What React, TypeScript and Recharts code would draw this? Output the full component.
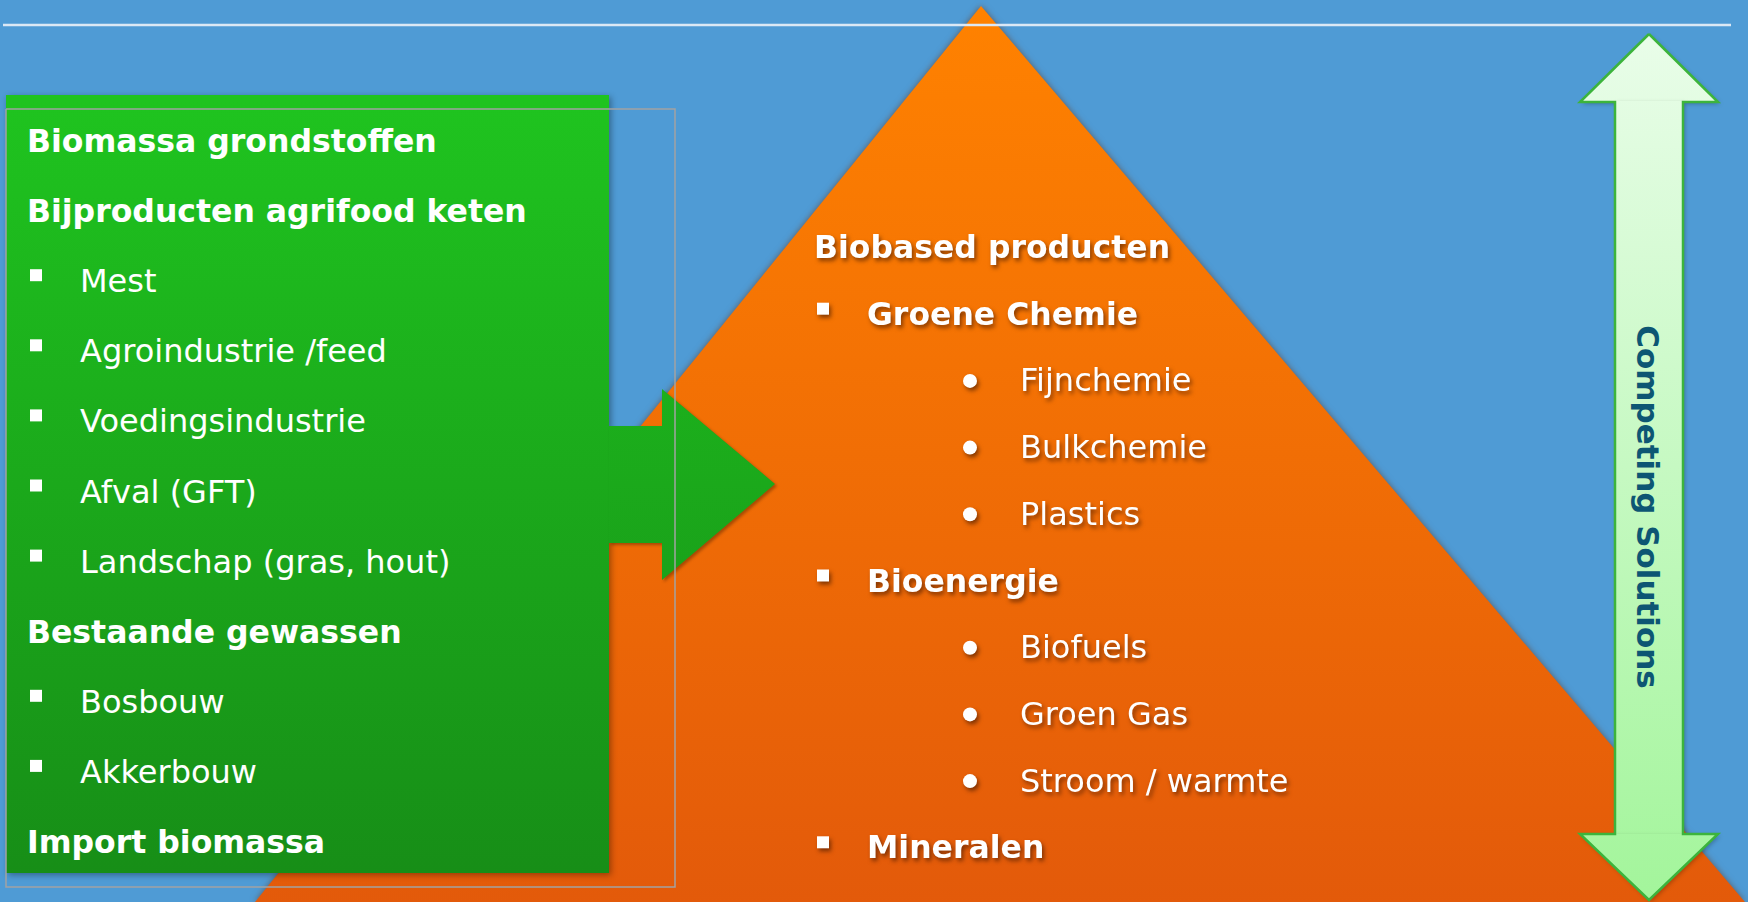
import { Area, ComposedChart, Line, Scatter, XAxis, YAxis } from "recharts";

const W = 1748;
const H = 902;
const FONT = "'DejaVu Sans', Verdana, sans-serif";

// left box: raw materials
const sourceLines = [
  { text: "Biomassa grondstoffen", kind: "head" },
  { text: "Bijproducten agrifood keten", kind: "head" },
  { text: "Mest", kind: "item" },
  { text: "Agroindustrie /feed", kind: "item" },
  { text: "Voedingsindustrie", kind: "item" },
  { text: "Afval (GFT)", kind: "item" },
  { text: "Landschap (gras, hout)", kind: "item" },
  { text: "Bestaande gewassen", kind: "head" },
  { text: "Bosbouw", kind: "item" },
  { text: "Akkerbouw", kind: "item" },
  { text: "Import biomassa", kind: "head" },
];

// pyramid: products
const productLines = [
  { text: "Biobased producten", kind: "head" },
  { text: "Groene Chemie", kind: "group" },
  { text: "Fijnchemie", kind: "sub" },
  { text: "Bulkchemie", kind: "sub" },
  { text: "Plastics", kind: "sub" },
  { text: "Bioenergie", kind: "group" },
  { text: "Biofuels", kind: "sub" },
  { text: "Groen Gas", kind: "sub" },
  { text: "Stroom / warmte", kind: "sub" },
  { text: "Mineralen", kind: "group" },
];

const sideLabel = "Competing Solutions";

// shapes in slide units: x, r = [top, bottom]
const pyramid = [
  { x: 255, r: [902, 902] },
  { x: 981, r: [6, 902] },
  { x: 1745, r: [902, 902] },
];
const sourceBox = [
  { x: 6, r: [95, 873] },
  { x: 609, r: [95, 873] },
];
const feedArrow = [
  { x: 609, r: [426, 543] },
  { x: 662, r: [426, 543] },
  { x: 662, r: [389, 580] },
  { x: 775, r: [484, 484] },
];
const upHead = [
  { x: 1580, r: [102, 102] },
  { x: 1649, r: [34, 102] },
  { x: 1718, r: [102, 102] },
];
const shaft = [
  { x: 1615, r: [101, 835] },
  { x: 1683, r: [101, 835] },
];
const downHead = [
  { x: 1580, r: [834, 834] },
  { x: 1649, r: [834, 900] },
  { x: 1718, r: [834, 834] },
];
const arrowOutline = [
  { x: 1649, y: 34 },
  { x: 1718, y: 102 },
  { x: 1683, y: 102 },
  { x: 1683, y: 834 },
  { x: 1718, y: 834 },
  { x: 1649, y: 900 },
  { x: 1580, y: 834 },
  { x: 1615, y: 834 },
  { x: 1615, y: 102 },
  { x: 1580, y: 102 },
  { x: 1649, y: 34 },
];
const frame = [
  { x: 6, y: 109 },
  { x: 675, y: 109 },
  { x: 675, y: 887 },
  { x: 6, y: 887 },
  { x: 6, y: 109 },
];
const rule = [
  { x: 3, y: 25 },
  { x: 1731, y: 25 },
];

const sourceRows = sourceLines.map((l, i) => ({ ...l, x: 27, y: 152 + i * 70.1 }));
const productRows = productLines.map((l, i) => ({ ...l, x: 814, y: 258 + i * 66.7 }));
const sideRows = [{ text: sideLabel, x: 1637, y: 507 }];

function SourceMark(props: any) {
  const { cx, cy, payload } = props;
  if (payload.kind === "head") {
    return (
      <text x={cx} y={cy} fill="#fff" fontSize={31.5} fontWeight={700} fontFamily={FONT}>
        {payload.text}
      </text>
    );
  }
  return (
    <g>
      <rect x={cx + 3} y={cy - 23} width={12} height={12} fill="#fff" />
      <text x={cx + 53} y={cy} fill="#fff" fontSize={32} fontFamily={FONT}>
        {payload.text}
      </text>
    </g>
  );
}

function ProductMark(props: any) {
  const { cx, cy, payload } = props;
  const bold = payload.kind !== "sub";
  const tx = payload.kind === "head" ? cx : payload.kind === "group" ? cx + 53 : cx + 206;
  return (
    <g className="txt-shadow">
      {payload.kind === "group" && <rect x={cx + 3} y={cy - 22} width={12} height={12} fill="#fff" />}
      {payload.kind === "sub" && <circle cx={cx + 156} cy={cy - 10.5} r={7} fill="#fff" />}
      <text
        x={tx}
        y={cy}
        fill="#fff"
        fontSize={bold ? 31.5 : 32}
        fontWeight={bold ? 700 : 400}
        fontFamily={FONT}
      >
        {payload.text}
      </text>
    </g>
  );
}

function SideMark(props: any) {
  const { cx, cy, payload } = props;
  return (
    <text
      x={cx}
      y={cy}
      transform={`rotate(90, ${cx}, ${cy})`}
      textAnchor="middle"
      fill="#0d5673"
      fontSize={31}
      fontWeight={700}
      fontFamily={FONT}
    >
      {payload.text}
    </text>
  );
}

export default function App() {
  return (
    <div style={{ position: "absolute", left: 0, top: 0, width: W, height: H, background: "#4f9bd5" }}>
      <style>{`
        .pyr path { filter: drop-shadow(0px 0px 3px rgba(110,40,0,0.55)); }
        .box path { filter: drop-shadow(2px 2px 3px rgba(0,0,0,0.35)); }
        .arr path { filter: drop-shadow(2px 2px 1.5px rgba(0,0,0,0.3)); }
        .dbl path { filter: drop-shadow(2px 2px 2px rgba(0,0,0,0.25)); }
        .txt-shadow { filter: drop-shadow(2px 3px 2px rgba(60,20,0,0.6)); }
      `}</style>
      <ComposedChart width={W} height={H} margin={{ top: 0, right: 0, bottom: 0, left: 0 }}>
        <defs>
          <linearGradient id="gPyr" x1="0" y1="0" x2="0" y2="1">
            <stop offset="0%" stopColor="#ff8200" />
            <stop offset="100%" stopColor="#e35a0a" />
          </linearGradient>
          <linearGradient id="gBox" gradientUnits="userSpaceOnUse" x1="0" y1="95" x2="0" y2="873">
            <stop offset="0%" stopColor="#1fc41f" />
            <stop offset="100%" stopColor="#178e17" />
          </linearGradient>
          <linearGradient id="gDbl" gradientUnits="userSpaceOnUse" x1="0" y1="34" x2="0" y2="900">
            <stop offset="0%" stopColor="#e9fde9" />
            <stop offset="100%" stopColor="#a3f59b" />
          </linearGradient>
        </defs>
        <XAxis type="number" dataKey="x" domain={[0, W]} allowDataOverflow hide />
        <YAxis type="number" dataKey="y" domain={[0, H]} allowDataOverflow reversed hide />

        <Area data={pyramid} dataKey="r" type="linear" fill="url(#gPyr)" fillOpacity={1} stroke="none" className="pyr" dot={false} activeDot={false} isAnimationActive={false} />
        <Area data={sourceBox} dataKey="r" type="linear" fill="url(#gBox)" fillOpacity={1} stroke="none" className="box" dot={false} activeDot={false} isAnimationActive={false} />
        <Area data={feedArrow} dataKey="r" type="linear" fill="url(#gBox)" fillOpacity={1} stroke="none" className="arr" dot={false} activeDot={false} isAnimationActive={false} />
        <Area data={upHead} dataKey="r" type="linear" fill="url(#gDbl)" fillOpacity={1} stroke="none" className="dbl" dot={false} activeDot={false} isAnimationActive={false} />
        <Area data={shaft} dataKey="r" type="linear" fill="url(#gDbl)" fillOpacity={1} stroke="none" className="dbl" dot={false} activeDot={false} isAnimationActive={false} />
        <Area data={downHead} dataKey="r" type="linear" fill="url(#gDbl)" fillOpacity={1} stroke="none" className="dbl" dot={false} activeDot={false} isAnimationActive={false} />

        <Line data={rule} dataKey="y" type="linear" stroke="#dbe8f5" strokeWidth={2.5} dot={false} activeDot={false} isAnimationActive={false} />
        <Line data={frame} dataKey="y" type="linear" stroke="#a3a3a3" strokeWidth={1.5} dot={false} activeDot={false} isAnimationActive={false} />
        <Line data={arrowOutline} dataKey="y" type="linear" stroke="#3cb43c" strokeWidth={2.5} dot={false} activeDot={false} isAnimationActive={false} />

        <Scatter data={sourceRows} shape={SourceMark} isAnimationActive={false} />
        <Scatter data={productRows} shape={ProductMark} isAnimationActive={false} />
        <Scatter data={sideRows} shape={SideMark} isAnimationActive={false} />
      </ComposedChart>
    </div>
  );
}
